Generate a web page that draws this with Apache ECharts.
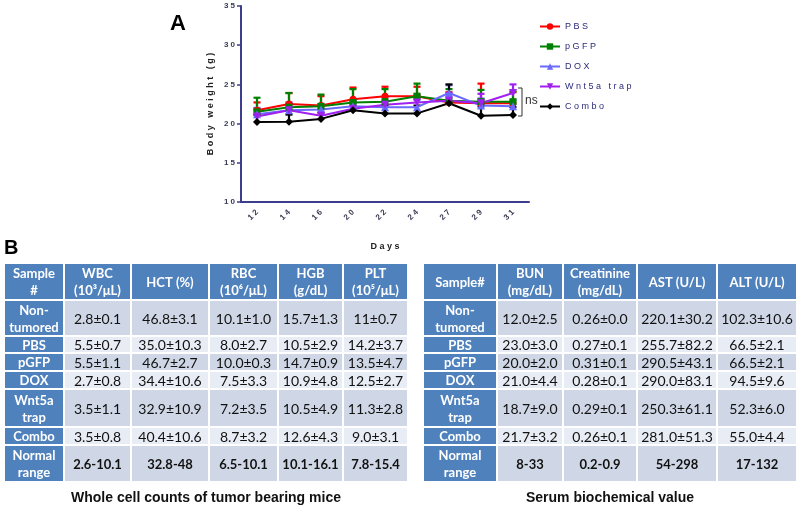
<!DOCTYPE html>
<html><head><meta charset="utf-8">
<script src="https://cdn.jsdelivr.net/npm/echarts@6/dist/echarts.min.js"></script>
<style>html,body{margin:0;padding:0;background:#fff}#c{width:800px;height:507px}</style>
</head><body><div id="c"></div>
<script>
// ---- Panel A data ----
const days = ['12','14','16','20','22','24','27','29','31'];
const pbs      = [21.7, 22.5, 22.3, 23.1, 23.5, 23.5, 22.7, 22.6, 22.6];
const pbsErr   = [1.0, 1.4, 1.2, 1.5, 1.2, 1.2, 1.3, 2.5, 1.4];
const pgfp     = [21.5, 22.1, 22.2, 22.7, 22.8, 23.5, 22.9, 22.8, 22.8];
const pgfpErr  = [1.8, 1.8, 1.5, 1.7, 1.6, 1.6, 1.5, 1.5, 1.3];
const dox      = [21.2, 21.7, 21.8, 22.2, 22.1, 22.1, 23.9, 22.3, 22.2];
const doxErr   = [0.8, 0.9, 0.7, 0.8, 0.8, 0.9, 1.0, 0.9, 0.8];
const wnt      = [20.9, 21.7, 21.0, 21.9, 22.4, 22.7, 22.9, 22.6, 23.9];
const wntErr   = [1.0, 1.0, 0.8, 1.0, 1.0, 1.0, 1.0, 1.2, 1.1];
const combo    = [20.2, 20.25, 20.6, 21.7, 21.3, 21.3, 22.6, 21.0, 21.1];
const comboErr = [0.9, 0.9, 0.8, 0.9, 1.0, 1.0, 2.4, 1.2, 1.0];
const yTicks = {min: 10, max: 35, interval: 5};

// ---- Panel B data ----
const rowLabels = ['Non-\ntumored','PBS','pGFP','DOX','Wnt5a\ntrap','Combo','Normal\nrange'];
const leftHeaders = ['Sample\n#','WBC\n(10³/μL)','HCT (%)','RBC\n(10⁶/μL)','HGB\n(g/dL)','PLT\n(10⁵/μL)'];
const wbc = ['2.8±0.1','5.5±0.7','5.5±1.1','2.7±0.8','3.5±1.1','3.5±0.8','2.6-10.1'];
const hct = ['46.8±3.1','35.0±10.3','46.7±2.7','34.4±10.6','32.9±10.9','40.4±10.6','32.8-48'];
const rbc = ['10.1±1.0','8.0±2.7','10.0±0.3','7.5±3.3','7.2±3.5','8.7±3.2','6.5-10.1'];
const hgb = ['15.7±1.3','10.5±2.9','14.7±0.9','10.9±4.8','10.5±4.9','12.6±4.3','10.1-16.1'];
const plt = ['11±0.7','14.2±3.7','13.5±4.7','12.5±2.7','11.3±2.8','9.0±3.1','7.8-15.4'];
const rightHeaders = ['Sample#','BUN\n(mg/dL)','Creatinine\n(mg/dL)','AST (U/L)','ALT (U/L)'];
const bun = ['12.0±2.5','23.0±3.0','20.0±2.0','21.0±4.4','18.7±9.0','21.7±3.2','8-33'];
const creat = ['0.26±0.0','0.27±0.1','0.31±0.1','0.28±0.1','0.29±0.1','0.26±0.1','0.2-0.9'];
const ast = ['220.1±30.2','255.7±82.2','290.5±43.1','290.0±83.1','250.3±61.1','281.0±51.3','54-298'];
const alt = ['102.3±10.6','66.5±2.1','66.5±2.1','94.5±9.6','52.3±6.0','55.0±4.4','17-132'];
const leftTitle = 'Whole cell counts of tumor bearing mice';
const rightTitle = 'Serum biochemical value';

// ---- layout ----
const rowEdges = [[264,299],[301,335],[337,352],[354,370],[372,388],[390,426],[428,444],[446,481]];
const leftCols = [4,64,131,209,278,343,408];
const rightCols = [423,497,563,637,717,797];
const BLUE = '#4f81bd', DARK = '#cfd7e6', LIGHT = '#e8ecf4';
const cellFont = '14px Lato, "Open Sans", sans-serif';
const rangeFont = 'bold 13px Lato, "Open Sans", sans-serif';
const boldFont = 'bold 13px Lato, "Open Sans", sans-serif';

function spaced(s){ return String(s).split('').join(' '); }

function textEl(txt, x, y, font, fill){
  return {type:'text', silent:true, z:10, style:{text:txt, x:x, y:y, font:font, fill:fill,
    align:'center', verticalAlign:'middle', textAlign:'center', textVerticalAlign:'middle', lineHeight:17}};
}
function buildTable(cols, headers, columns, title){
  const els = [];
  for (let c=0;c<headers.length;c++){
    const x0 = cols[c], x1 = cols[c+1];
    const [y0,y1] = rowEdges[0];
    els.push({type:'rect', silent:true, shape:{x:x0+1,y:y0,width:x1-x0-2,height:y1-y0}, style:{fill:BLUE}});
    els.push(textEl(headers[c], (x0+x1)/2, (y0+y1)/2+1, boldFont, '#fff'));
  }
  for (let r=0;r<rowLabels.length;r++){
    const [y0,y1] = rowEdges[r+1];
    const last = r===rowLabels.length-1;
    els.push({type:'rect', silent:true, shape:{x:cols[0]+1,y:y0,width:cols[1]-cols[0]-2,height:y1-y0}, style:{fill:BLUE}});
    els.push(textEl(rowLabels[r], (cols[0]+cols[1])/2, (y0+y1)/2+1, boldFont, '#fff'));
    for (let c=0;c<columns.length;c++){
      const x0 = cols[c+1], x1 = cols[c+2];
      els.push({type:'rect', silent:true, shape:{x:x0+1,y:y0,width:x1-x0-2,height:y1-y0}, style:{fill: r%2===0?DARK:LIGHT}});
      els.push(textEl(columns[c][r], (x0+x1)/2, (y0+y1)/2+1, last?rangeFont:cellFont, '#111'));
    }
  }
  els.push({type:'text', silent:true, style:{text:title, x:(cols[0]+cols[cols.length-1])/2, y:498,
    font:'bold 14px "Liberation Sans", Arial, sans-serif', fill:'#111',
    align:'center', verticalAlign:'middle', textAlign:'center', textVerticalAlign:'middle'}});
  return els;
}

const groups = [
  {name:'PBS', v:pbs, e:pbsErr, color:'#ff0000', symbol:'circle', size:7},
  {name:'pGFP', v:pgfp, e:pgfpErr, color:'#008000', symbol:'rect', size:7},
  {name:'DOX', v:dox, e:doxErr, color:'#6a6aff', symbol:'triangle', size:8},
  {name:'Wnt5a trap', v:wnt, e:wntErr, color:'#a020f0', symbol:'path://M0,0 L10,0 L5,9 Z', size:8},
  {name:'Combo', v:combo, e:comboErr, color:'#000000', symbol:'diamond', size:8}
];

const series = [];
groups.forEach(g=>{
  series.push({
    type:'custom', name:g.name+' err', silent:true, z:2,
    data: g.v.map((v,i)=>[i, v, v+g.e[i]]),
    encode:{x:0, y:[1,2]},
    renderItem:function(params, api){
      const i = api.value(0);
      const lo = api.coord([i, api.value(1)]);
      const hi = api.coord([i, api.value(2)]);
      const w = 3.5;
      const st = {stroke:g.color, lineWidth:2.2};
      return {type:'group', children:[
        {type:'line', shape:{x1:lo[0],y1:lo[1],x2:hi[0],y2:hi[1]}, style:st},
        {type:'line', shape:{x1:hi[0]-w,y1:hi[1],x2:hi[0]+w,y2:hi[1]}, style:st}
      ]};
    }
  });
});
groups.forEach(g=>{
  series.push({
    type:'line', name:g.name, data:g.v, z:3,
    symbol:g.symbol, symbolSize:g.size, showAllSymbol:true,
    lineStyle:{color:g.color, width:2}, itemStyle:{color:g.color},
    emphasis:{disabled:true}, animation:false
  });
});

const axisColor = '#3d3d8f';
const labelColor = '#3a3a55';
const option = {
  animation:false,
  backgroundColor:'#fff',
  grid:{left:241, top:6, right:271, bottom:305, containLabel:false},
  xAxis:{
    type:'category', data:days, boundaryGap:true,
    axisLine:{lineStyle:{color:axisColor, width:2}},
    axisTick:{alignWithLabel:true, length:4, lineStyle:{color:axisColor, width:1.5}},
    axisLabel:{rotate:45, margin:9, color:labelColor, fontSize:8, fontWeight:'bold',
      fontFamily:'"Liberation Sans", Arial, sans-serif', formatter:spaced},
    name:spaced('Days'), nameLocation:'middle', nameGap:40,
    nameTextStyle:{color:'#222', fontSize:9, fontWeight:'bold', fontFamily:'"Liberation Sans", Arial, sans-serif'}
  },
  yAxis:{
    type:'value', min:yTicks.min, max:yTicks.max, interval:yTicks.interval,
    splitLine:{show:false},
    axisLine:{show:true, lineStyle:{color:axisColor, width:2}},
    axisTick:{show:true, length:4, lineStyle:{color:axisColor, width:1.5}},
    axisLabel:{margin:6, color:labelColor, fontSize:8, fontWeight:'bold',
      fontFamily:'"Liberation Sans", Arial, sans-serif', formatter:spaced},
    name:'B o d y   w e i g h t   ( g )', nameLocation:'middle', nameGap:26, nameRotate:90,
    nameTextStyle:{color:'#222', fontSize:9, fontWeight:'bold', fontFamily:'"Liberation Sans", Arial, sans-serif'}
  },
  legend:{
    data:groups.map(g=>g.name), orient:'vertical', left:534, top:17,
    itemWidth:20, itemHeight:8, itemGap:11,
    formatter:spaced,
    textStyle:{color:'#2b2b7a', fontSize:9, fontFamily:'"Liberation Sans", Arial, sans-serif'}
  },
  series:series,
  graphic:[
    {type:'text', silent:true, style:{text:'A', x:170, y:13, font:'bold 22px "Liberation Sans", Arial, sans-serif', fill:'#000'}},
    {type:'text', silent:true, style:{text:'B', x:4, y:238, font:'bold 20px "Liberation Sans", Arial, sans-serif', fill:'#000'}},
    {type:'polyline', silent:true, shape:{points:[[518,88],[522,88],[522,116],[518,116]]}, style:{stroke:'#333', lineWidth:1, fill:null}},
    {type:'text', silent:true, style:{text:'ns', x:525, y:95, font:'12px "Liberation Sans", Arial, sans-serif', fill:'#333'}}
  ].concat(buildTable(leftCols, leftHeaders, [wbc,hct,rbc,hgb,plt], leftTitle))
   .concat(buildTable(rightCols, rightHeaders, [bun,creat,ast,alt], rightTitle))
};
const chart = echarts.init(document.getElementById('c'), null, {renderer:'canvas'});
chart.setOption(option);
</script>
</body></html>
